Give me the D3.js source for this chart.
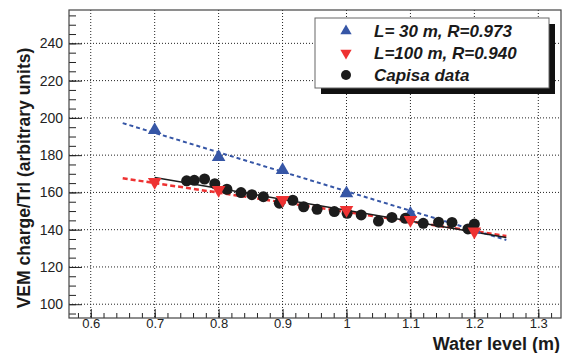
<!DOCTYPE html>
<html>
<head>
<meta charset="utf-8">
<script src="https://cdn.jsdelivr.net/npm/d3@7"></script>
<style>
body { margin: 0; background: #fff; }
svg { display: block; font-family: "Liberation Sans", Arial, sans-serif; }
</style>
</head>
<body>
<script>
// data
var levels = [0.7, 0.8, 0.9, 1.0, 1.1, 1.2];
var charge30 = [193.5, 179, 172, 159.5, 148.5, 140];   // L = 30 m
var charge100 = [165.6, 161.4, 156, 150.6, 145.2, 139]; // L = 100 m
var capisaLevel = [0.75, 0.762, 0.778, 0.794, 0.813, 0.835, 0.852, 0.87, 0.895, 0.916, 0.933, 0.954,
                   0.981, 1.001, 1.023, 1.05, 1.071, 1.092, 1.12, 1.144, 1.165, 1.19, 1.2];
var capisaCharge = [166.2, 166.5, 167.2, 164.7, 161.7, 159.9, 158.8, 157.7, 154.2, 155.8, 152.3, 150.9,
                    149.7, 148.8, 147.9, 144.6, 146.6, 146.1, 143.4, 144, 143.9, 140.4, 143];
// fitted lines, end points
var fit30 = [[0.65, 197.2], [1.25, 134.5]];
var fit100 = [[0.65, 167.6], [1.25, 136.6]];
var fitCapisa = [[0.7, 168], [1.25, 135.8]];
var xTicks = [0.6, 0.7, 0.8, 0.9, 1.0, 1.1, 1.2, 1.3];
var yTicks = [100, 120, 140, 160, 180, 200, 220, 240];
var legendLabels = ["L= 30 m, R=0.973", "L=100 m, R=0.940", "Capisa data"];

var width = 563, height = 353;
var mLeft = 69, mRight = 561, mTop = 10, mBottom = 318;

var svg = d3.select("body").append("svg").attr("width", width).attr("height", height);

var x = d3.scaleLinear().domain([0.566, 1.3355]).range([mLeft, mRight]);
var y = d3.scaleLinear().domain([92.6, 257.9]).range([mBottom, mTop]);

var blue = "#3656a6", red = "#ee3232", black = "#1c1c1c";

// grid, dotted
svg.append("g").selectAll("line").data(xTicks).enter().append("line")
    .attr("x1", function(d){ return x(d); }).attr("x2", function(d){ return x(d); })
    .attr("y1", mTop).attr("y2", mBottom)
    .attr("stroke", "#222").attr("stroke-width", 1).attr("stroke-dasharray", "1,2");
svg.append("g").selectAll("line").data(yTicks).enter().append("line")
    .attr("x1", mLeft).attr("x2", mRight)
    .attr("y1", function(d){ return y(d); }).attr("y2", function(d){ return y(d); })
    .attr("stroke", "#222").attr("stroke-width", 1).attr("stroke-dasharray", "1,2");

// axes, ticks pointing inside like ROOT
var yAxis = d3.axisLeft(y).tickValues(yTicks).tickSize(-13).tickPadding(6).tickFormat(d3.format("d"));
var yMinor = d3.axisLeft(y).tickValues(d3.range(95, 258, 5)).tickSize(-7).tickFormat("");
var xAxis = d3.axisBottom(x).tickValues(xTicks).tickSize(-9).tickPadding(1).tickFormat(function(d){ return String(+d.toFixed(1)); });
var xMinor = d3.axisBottom(x).tickValues(d3.range(0.58, 1.335, 0.02)).tickSize(-5).tickFormat("");

function styleAxis(g) {
  g.select(".domain").remove();
  g.selectAll(".tick line").attr("stroke", "#222");
  g.selectAll(".tick text").attr("font-size", 14).attr("fill", "#222");
}
svg.append("g").attr("transform", "translate(" + mLeft + ",0)").call(yMinor).call(styleAxis);
svg.append("g").attr("transform", "translate(" + mLeft + ",0)").call(yAxis).call(styleAxis);
svg.append("g").attr("transform", "translate(0," + mBottom + ")").call(xMinor).call(styleAxis);
svg.append("g").attr("transform", "translate(0," + mBottom + ")").call(xAxis).call(styleAxis)
    .selectAll(".tick text").attr("font-size", 13);

// frame
svg.append("rect").attr("x", mLeft).attr("y", mTop).attr("width", mRight - mLeft).attr("height", mBottom - mTop)
    .attr("fill", "none").attr("stroke", "#444").attr("stroke-width", 1.2);

// fit lines
var line = d3.line().x(function(d){ return x(d[0]); }).y(function(d){ return y(d[1]); });
svg.append("path").attr("d", line(fit30)).attr("fill", "none").attr("stroke", blue)
    .attr("stroke-width", 2).attr("stroke-dasharray", "4,3");
svg.append("path").attr("d", line(fit100)).attr("fill", "none").attr("stroke", red)
    .attr("stroke-width", 2.5).attr("stroke-dasharray", "5,3");
svg.append("path").attr("d", line(fitCapisa)).attr("fill", "none").attr("stroke", black)
    .attr("stroke-width", 1.6);

var tri = d3.symbol().type(d3.symbolTriangle).size(80);
var triSmall = d3.symbol().type(d3.symbolTriangle).size(55);

// L=30 triangles
svg.append("g").selectAll("path").data(levels).enter().append("path")
    .attr("d", tri())
    .attr("transform", function(d, i){ return "translate(" + x(d) + "," + y(charge30[i]) + ")"; })
    .attr("fill", blue);

// Capisa dots
svg.append("g").selectAll("circle").data(capisaLevel).enter().append("circle")
    .attr("cx", function(d){ return x(d); })
    .attr("cy", function(d, i){ return y(capisaCharge[i]); })
    .attr("r", 5.5).attr("fill", black);

// L=100 triangles (pointing down)
svg.append("g").selectAll("path").data(levels).enter().append("path")
    .attr("d", tri())
    .attr("transform", function(d, i){ return "translate(" + x(d) + "," + y(charge100[i]) + ") rotate(180)"; })
    .attr("fill", red);

// legend
var lg = svg.append("g");
lg.append("rect").attr("x", 321).attr("y", 24).attr("width", 234).attr("height", 70).attr("fill", "#111");
lg.append("rect").attr("x", 315).attr("y", 18).attr("width", 234).attr("height", 70)
    .attr("fill", "#fff").attr("stroke", "#666").attr("stroke-width", 1);
var rowsY = [31, 53, 75];
lg.append("path").attr("d", triSmall()).attr("transform", "translate(346," + rowsY[0] + ")").attr("fill", blue);
lg.append("path").attr("d", triSmall()).attr("transform", "translate(346," + rowsY[1] + ") rotate(180)").attr("fill", red);
lg.append("circle").attr("cx", 346).attr("cy", rowsY[2]).attr("r", 5).attr("fill", black);
lg.selectAll("text").data(legendLabels).enter().append("text")
    .attr("x", 374).attr("y", function(d, i){ return rowsY[i]; }).attr("dy", "0.36em")
    .attr("font-size", 17).attr("font-weight", "bold").attr("font-style", "italic").attr("fill", "#1a1a1a")
    .text(function(d){ return d; });

// axis titles
svg.append("text").attr("x", 560).attr("y", 349.5).attr("text-anchor", "end")
    .attr("font-size", 18).attr("font-weight", "bold").attr("fill", "#1a1a1a").text("Water level (m)");
svg.append("text").attr("transform", "translate(30,178) rotate(-90)").attr("text-anchor", "middle")
    .attr("font-size", 17.5).attr("font-weight", "bold").attr("fill", "#1a1a1a")
    .text("VEM charge/Trl (arbitrary units)");
</script>
</body>
</html>
